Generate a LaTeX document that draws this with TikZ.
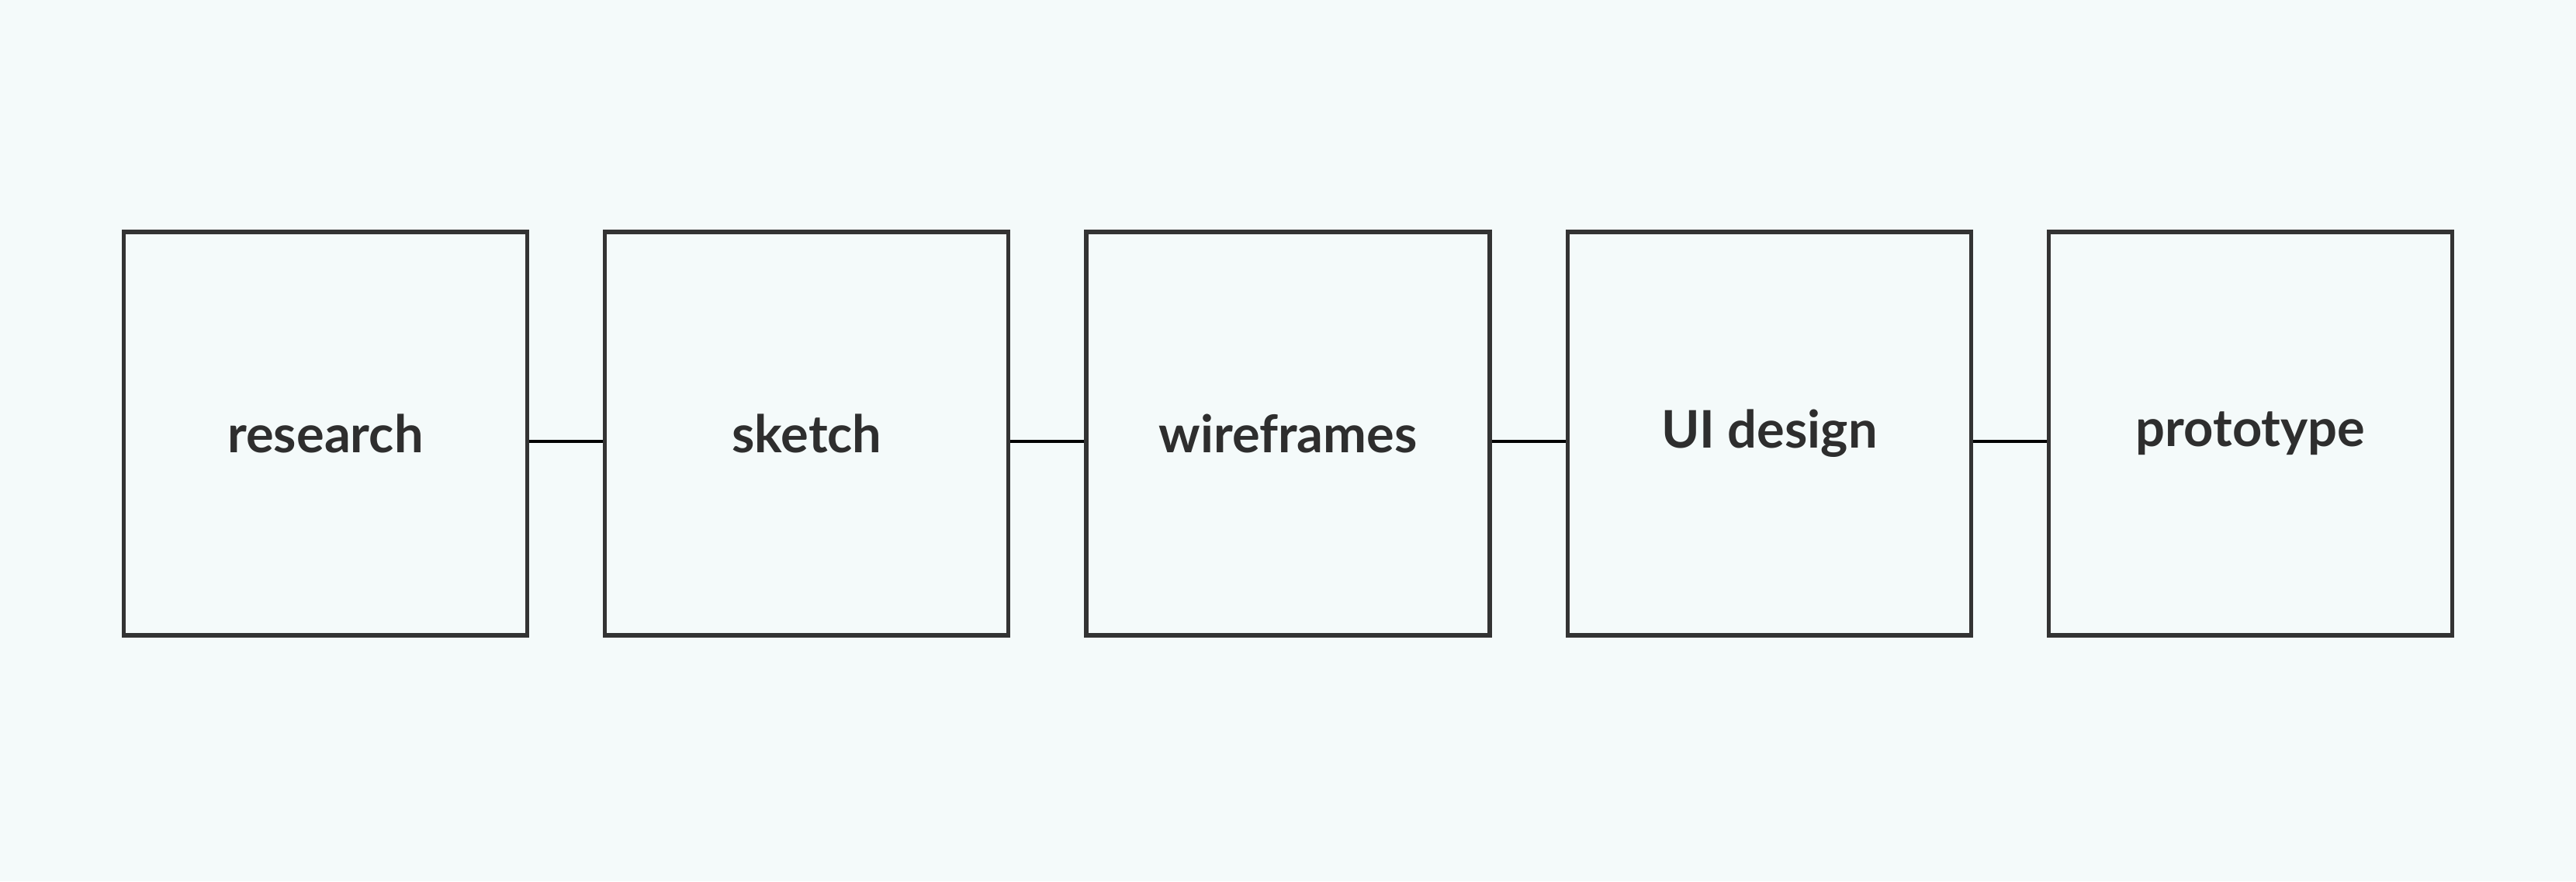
\documentclass[tikz,border=0pt]{standalone}
\usepackage{fontspec}
\setmainfont{Lato}
\usepackage{tikz}
\usetikzlibrary{positioning}
\definecolor{pagebg}{RGB}{244,250,250}
\definecolor{boxline}{RGB}{51,51,51}
\definecolor{labeltext}{RGB}{46,46,46}
\tikzset{
node distance=0.95cm, % gap between two neighbouring boxes
stage/.style={draw=boxline, line width=1.5pt, fill=pagebg, minimum width=5.2cm, minimum height=5.2cm, font=\fontsize{19}{23}\selectfont\bfseries, text=labeltext}, % one step of the process
link/.style={draw=black, line width=1.4pt}, % plain line between two steps
}

\begin{document}
\begin{tikzpicture}
    \fill[pagebg] (0,0) rectangle (33.2,11.36);
    \useasboundingbox (0,0) rectangle (33.2,11.36);
    \node[stage] (research) at (4.195,5.77) {research};
    \node[stage, right=of research] (sketch) {sketch};
    \node[stage, right=of sketch] (wireframes) {wireframes};
    \node[stage, right=of wireframes] (uidesign) {UI design};
    \node[stage, right=of uidesign] (prototype) {prototype};
    \draw[link] ([yshift=-1mm]research.east) -- ([yshift=-1mm]sketch.west);
    \draw[link] ([yshift=-1mm]sketch.east) -- ([yshift=-1mm]wireframes.west);
    \draw[link] ([yshift=-1mm]wireframes.east) -- ([yshift=-1mm]uidesign.west);
    \draw[link] ([yshift=-1mm]uidesign.east) -- ([yshift=-1mm]prototype.west);
  \end{tikzpicture}
\end{document}
